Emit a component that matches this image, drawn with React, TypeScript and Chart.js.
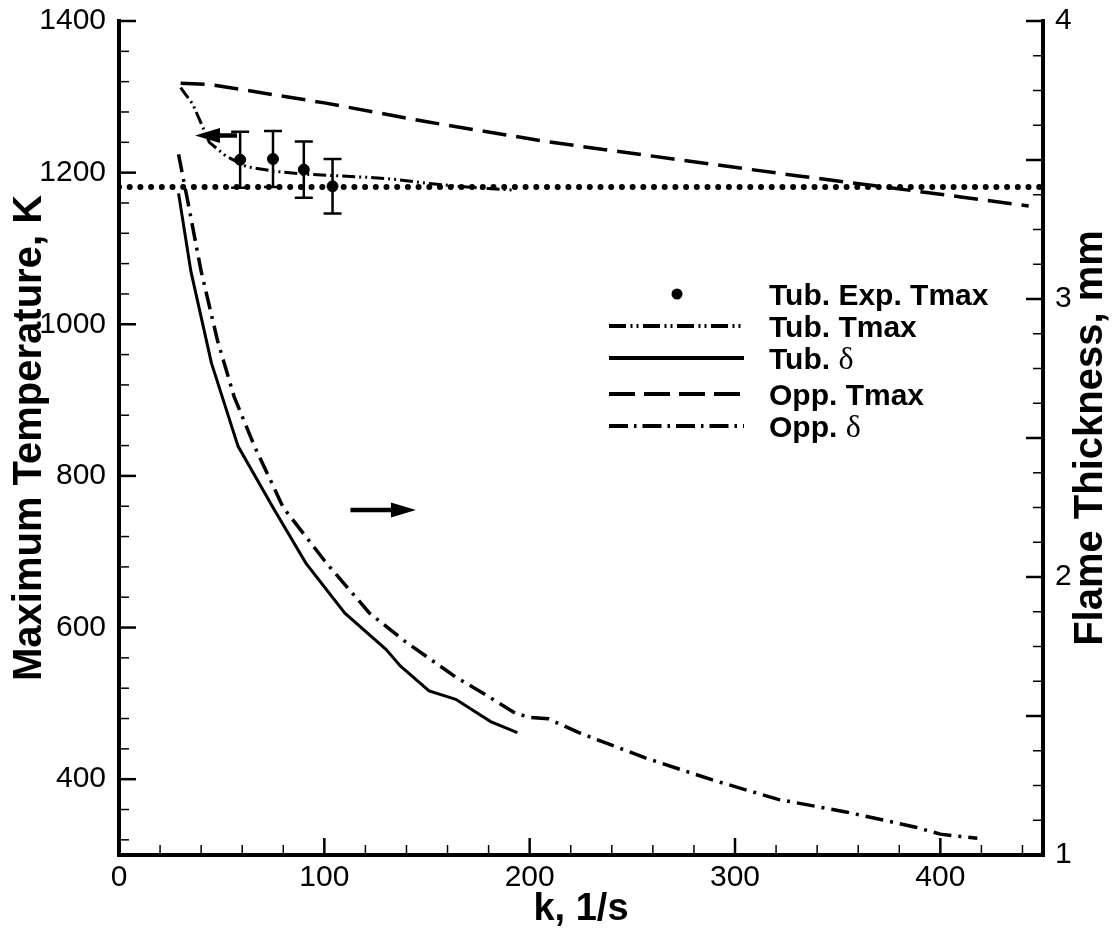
import React, { useEffect, useRef } from 'react';
import { Chart, registerables } from 'chart.js';

Chart.register(...registerables);

// ---------------- data ----------------
const EXP_K = [59, 75, 90, 104];
const EXP_T = [1217, 1218, 1204, 1182];
const EXP_ERR = [37, 37, 37, 36];

const TUB_TMAX_K = [30, 36, 44, 52, 62, 75, 90, 105, 120, 135, 150, 165, 180, 192];
const TUB_TMAX_T = [1312, 1290, 1240, 1222, 1208, 1202, 1198, 1196, 1194, 1191, 1186, 1182, 1179, 1177];

const TUB_DELTA_K = [29, 35, 45, 58, 75, 91, 110, 130, 137, 151, 164, 181, 194];
const TUB_DELTA = [3.38, 3.1, 2.77, 2.47, 2.25, 2.05, 1.87, 1.74, 1.68, 1.59, 1.56, 1.48, 1.44];

const OPP_TMAX_K = [30, 45, 100, 150, 208, 270, 330, 370, 410, 443];
const OPP_TMAX_T = [1318, 1316, 1292, 1267, 1241, 1218, 1196, 1182, 1168, 1156];

const OPP_DELTA_K = [29, 33, 40, 48, 56, 66, 80, 101, 122, 139, 164, 180, 193, 200, 209, 224, 256, 289, 321, 354, 388, 400, 418];
const OPP_DELTA = [3.52, 3.37, 3.1, 2.85, 2.65, 2.47, 2.25, 2.05, 1.87, 1.77, 1.64, 1.57, 1.51, 1.495, 1.49, 1.44, 1.35, 1.27, 1.2, 1.155, 1.1, 1.075, 1.06];

const REF_K = [0, 450];
const REF_T = [1181, 1181];

// arrows: [k from, k to, T level] on the temperature axis
const ARROW_LEFT = [57.5, 37, 1249];
const ARROW_RIGHT = [112.7, 144.6, 755];

// axis ranges / tick labels
const X_RANGE = [0, 450];
const T_RANGE = [300, 1400];
const D_RANGE = [1, 4];
const X_LABELS = [0, 100, 200, 300, 400];
const T_LABELS = [400, 600, 800, 1000, 1200, 1400];
const D_LABELS = [1, 2, 3, 4];
const X_MINOR_STEP = 20;
const T_MINOR_STEP = 40;
const D_MINOR_STEP = 0.125;
const D_MID = [1.5, 2.5, 3.5];

const LEGEND_LABELS = ['Tub. Exp. Tmax', 'Tub. Tmax', 'Tub. ', 'Opp. Tmax', 'Opp. '];
const LEGEND_GREEK = ['', '', 'δ', '', 'δ'];

const SANS = '"Liberation Sans", Arial, sans-serif';
const SERIF = '"Liberation Serif", "Times New Roman", serif';

const pts = (xs: number[], ys: number[]) => xs.map((x, i) => ({ x, y: ys[i] }));

const DASH_TUB_TMAX = [13, 4, 2, 4, 2, 4];
const DASH_OPP_TMAX = [24, 10];
const DASH_OPP_DELTA = [18, 7, 3, 7];

const LEG_DASH = [null, [17, 4.5, 2, 4, 2, 4.5], [], [26, 9], [19, 6, 2.5, 6]];

const decorPlugin = {
  id: 'decor',
  afterDatasetsDraw(chart: any) {
    const ctx = chart.ctx;
    const xs = chart.scales.x;
    const ys = chart.scales.y;
    const ds = chart.scales.y2;
    const ca = chart.chartArea;
    ctx.save();
    ctx.strokeStyle = '#000';
    ctx.fillStyle = '#000';
    ctx.setLineDash([]);

    // error bars
    ctx.lineWidth = 2.5;
    ctx.lineCap = 'butt';
    EXP_K.forEach((k, i) => {
      const x = xs.getPixelForValue(k);
      const yt = ys.getPixelForValue(EXP_T[i] + EXP_ERR[i]);
      const yb = ys.getPixelForValue(EXP_T[i] - EXP_ERR[i]);
      ctx.beginPath();
      ctx.moveTo(x, yt); ctx.lineTo(x, yb);
      ctx.moveTo(x - 9, yt); ctx.lineTo(x + 9, yt);
      ctx.moveTo(x - 9, yb); ctx.lineTo(x + 9, yb);
      ctx.stroke();
    });

    // arrows
    const arrow = (a: number[]) => {
      const x0 = xs.getPixelForValue(a[0]);
      const x1 = xs.getPixelForValue(a[1]);
      const y = ys.getPixelForValue(a[2]);
      const dir = Math.sign(x1 - x0);
      const headLen = 25;
      ctx.lineWidth = 4.5;
      ctx.beginPath();
      ctx.moveTo(x0, y); ctx.lineTo(x1 - dir * headLen * 0.8, y);
      ctx.stroke();
      ctx.beginPath();
      ctx.moveTo(x1, y);
      ctx.lineTo(x1 - dir * headLen, y - 7.5);
      ctx.lineTo(x1 - dir * headLen, y + 7.5);
      ctx.closePath();
      ctx.fill();
    };
    arrow(ARROW_LEFT);
    arrow(ARROW_RIGHT);

    // frame
    ctx.lineWidth = 4;
    ctx.lineCap = 'square';
    ctx.beginPath();
    ctx.moveTo(ca.left, ca.top);
    ctx.lineTo(ca.left, ca.bottom);
    ctx.lineTo(ca.right, ca.bottom);
    ctx.lineTo(ca.right, ca.top);
    ctx.stroke();
    ctx.lineCap = 'butt';

    const MAJ = 17, MIN = 10;
    const tick = (x0: number, y0: number, dx: number, dy: number, major: boolean) => {
      ctx.lineWidth = major ? 2.5 : 1.5;
      ctx.beginPath();
      ctx.moveTo(x0, y0);
      ctx.lineTo(x0 + dx * (major ? MAJ : MIN), y0 + dy * (major ? MAJ : MIN));
      ctx.stroke();
    };
    for (let v = X_RANGE[0] + X_MINOR_STEP; v < X_RANGE[1]; v += X_MINOR_STEP) {
      const major = X_LABELS.includes(v);
      tick(xs.getPixelForValue(v), ca.bottom, 0, -1, major);
    }
    for (let v = T_RANGE[0] + 20; v <= T_RANGE[1] + 0.01; v += T_MINOR_STEP) {
      const major = T_LABELS.includes(v);
      tick(ca.left, ys.getPixelForValue(v), 1, 0, major);
    }
    for (let v = D_RANGE[0] + D_MINOR_STEP; v <= D_RANGE[1] + 1e-6; v += D_MINOR_STEP) {
      const r = Math.round(v * 1000) / 1000;
      const major = D_LABELS.includes(r) || D_MID.includes(r);
      tick(ca.right, ds.getPixelForValue(r), -1, 0, major);
    }

    // legend
    const rows = [294, 326, 358, 394, 426];
    const lx0 = 609, lx1 = 744, tx = 769;
    LEGEND_LABELS.forEach((lab, i) => {
      const y = rows[i];
      const dash = LEG_DASH[i];
      if (dash === null) {
        ctx.beginPath();
        ctx.arc((lx0 + lx1) / 2 + 0.5, y, 5.5, 0, Math.PI * 2);
        ctx.fill();
      } else {
        ctx.lineWidth = 4;
        ctx.setLineDash(dash);
        ctx.beginPath();
        ctx.moveTo(lx0, y); ctx.lineTo(lx1, y);
        ctx.stroke();
        ctx.setLineDash([]);
      }
      ctx.font = 'bold 30px ' + SANS;
      ctx.textAlign = 'left';
      ctx.textBaseline = 'alphabetic';
      ctx.fillText(lab, tx, y + 11);
      if (LEGEND_GREEK[i]) {
        const w = ctx.measureText(lab).width;
        ctx.font = '32px ' + SERIF;
        ctx.fillText(LEGEND_GREEK[i], tx + w, y + 11);
      }
    });

    // axis titles
    ctx.font = 'bold 40px ' + SANS;
    ctx.textAlign = 'center';
    ctx.textBaseline = 'alphabetic';
    const cy = (ca.top + ca.bottom) / 2;
    ctx.save();
    ctx.translate(41, cy);
    ctx.rotate(-Math.PI / 2);
    ctx.fillText('Maximum Temperature, K', 0, 0);
    ctx.restore();
    ctx.save();
    ctx.translate(1102, cy);
    ctx.rotate(-Math.PI / 2);
    ctx.fillText('Flame Thickness, mm', 0, 0);
    ctx.restore();
    ctx.font = 'bold 38px ' + SANS;
    ctx.fillText('k, 1/s', (ca.left + ca.right) / 2, 920);

    ctx.restore();
  },
};

const tickFont = { family: SANS, size: 30, weight: 'normal' as const };

const noPad = (s: any) => {
  s.paddingTop = 0;
  s.paddingBottom = 0;
  s.paddingLeft = 0;
  s.paddingRight = 0;
};

export default function App() {
  const ref = useRef<HTMLCanvasElement | null>(null);
  useEffect(() => {
    if (!ref.current) return;
    const line = (data: any, axis: string, width: number, dash: number[]) => ({
      type: 'line',
      data,
      yAxisID: axis,
      borderColor: '#000',
      backgroundColor: '#000',
      borderWidth: width,
      borderDash: dash,
      pointRadius: 0,
      tension: 0,
      fill: false,
    });
    const chart = new Chart(ref.current, {
      type: 'line',
      data: {
        datasets: [
          {
            type: 'line',
            label: 'Tub. Exp. Tmax',
            data: pts(EXP_K, EXP_T),
            yAxisID: 'y',
            showLine: false,
            pointRadius: 5.5,
            pointBackgroundColor: '#000',
            pointBorderColor: '#000',
            borderColor: '#000',
          },
          { label: 'Tub. Tmax', ...line(pts(TUB_TMAX_K, TUB_TMAX_T), 'y', 3, DASH_TUB_TMAX) },
          { label: 'Tub. δ', ...line(pts(TUB_DELTA_K, TUB_DELTA), 'y2', 3, []) },
          { label: 'Opp. Tmax', ...line(pts(OPP_TMAX_K, OPP_TMAX_T), 'y', 3.5, DASH_OPP_TMAX) },
          { label: 'Opp. δ', ...line(pts(OPP_DELTA_K, OPP_DELTA), 'y2', 3.5, DASH_OPP_DELTA) },
          {
            label: 'ref',
            ...line(pts(REF_K, REF_T), 'y', 6, [0, 10.7]),
            borderCapStyle: 'round',
          },
        ] as any,
      },
      options: {
        responsive: false,
        animation: false,
        devicePixelRatio: 1,
        layout: { autoPadding: false, padding: { top: 21, left: 0, right: 0, bottom: 0 } },
        plugins: { legend: { display: false }, tooltip: { enabled: false } },
        scales: {
          x: {
            type: 'linear',
            position: 'bottom',
            min: X_RANGE[0],
            max: X_RANGE[1],
            afterBuildTicks: (s: any) => { s.ticks = X_LABELS.map((v) => ({ value: v })); },
            afterFit: (s: any) => { s.height = 75; noPad(s); },
            grid: { display: false, drawTicks: false },
            border: { display: false },
            ticks: { font: tickFont, color: '#000', padding: 5, maxRotation: 0, autoSkip: false, callback: (v: any) => String(v) },
          },
          y: {
            type: 'linear',
            position: 'left',
            min: T_RANGE[0],
            max: T_RANGE[1],
            afterBuildTicks: (s: any) => { s.ticks = T_LABELS.map((v) => ({ value: v })); },
            afterFit: (s: any) => { s.width = 119; noPad(s); },
            grid: { display: false, drawTicks: false },
            border: { display: false },
            ticks: { font: tickFont, color: '#000', padding: 13, autoSkip: false, callback: (v: any) => String(v) },
          },
          y2: {
            type: 'linear',
            position: 'right',
            min: D_RANGE[0],
            max: D_RANGE[1],
            afterBuildTicks: (s: any) => { s.ticks = D_LABELS.map((v) => ({ value: v })); },
            afterFit: (s: any) => { s.width = 74; noPad(s); },
            grid: { display: false, drawTicks: false },
            border: { display: false },
            ticks: { font: tickFont, color: '#000', padding: 12, autoSkip: false, callback: (v: any) => String(v) },
          },
        },
      } as any,
      plugins: [decorPlugin],
    });
    return () => chart.destroy();
  }, []);
  return (
    <canvas
      ref={ref}
      width={1117}
      height={930}
      style={{ position: 'absolute', left: 0, top: 0, display: 'block', background: '#fff' }}
    />
  );
}
